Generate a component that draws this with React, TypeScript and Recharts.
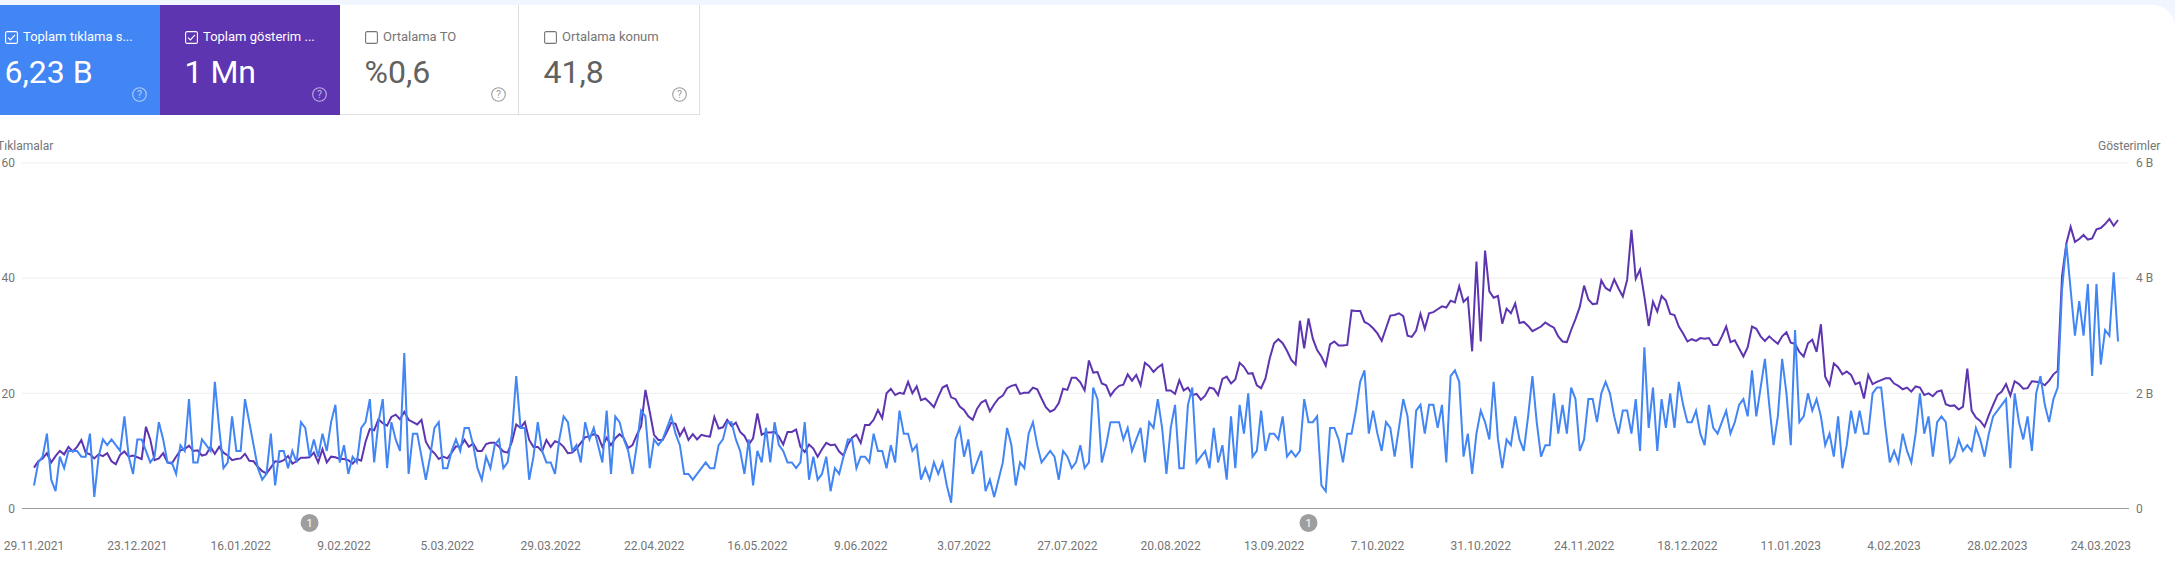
import React from "react";
import { LineChart, Line, XAxis, YAxis, CartesianGrid, ReferenceDot } from "recharts";

const startDate = "2021-11-29";
const clicks = [
4,8,9,13,5,3,9,7,10,10,10,9,9,13,2,9,12,11,12,11,10,16,9,6,12,12,10,8,9,15,12,8,8,6,11,10,19,8,8,12,11,10,22,14,7,8,16,10,10,19,15,11,7,5,6,13,4,10,10,7,10,8,15,14,9,12,9,13,10,15,18,8,11,6,9,8,14,15,19,8,15,19,7,15,12,10,27,6,13,13,9,5,9,14,15,
7,7,10,12,10,14,14,11,7,5,9,7,11,12,7,8,13,23,14,14,5,9,15,10,8,8,6,12,16,15,10,11,8,15,12,14,11,8,17,6,16,15,12,10,6,11,17,16,7,12,11,12,14,16,13,11,6,6,5,6,7,8,7,7,11,12,15,15,12,10,6,12,4,10,8,14,8,15,11,10,8,8,7,8,15,5,9,5,6,9,3,7,6,9,12,12,7,
9,9,8,13,10,10,7,11,8,17,13,13,10,11,5,7,5,8,6,8,4,1,12,14,9,12,6,8,10,3,5,2,5,8,14,11,4,8,7,13,15,11,8,9,10,9,5,10,9,7,8,11,7,8,21,19,8,11,15,15,15,12,14,10,12,14,8,15,14,19,14,6,14,18,7,7,18,21,8,9,10,7,14,8,11,5,16,7,18,13,20,9,10,17,10,13,13,12,16,9,10,9,10,
19,15,15,16,4,3,14,14,12,8,13,13,17,22,24,13,17,13,10,15,14,9,14,19,16,7,17,18,13,18,18,14,18,8,23,24,22,9,13,6,13,17,15,12,22,12,7,12,11,16,12,10,16,23,15,9,11,11,20,13,18,13,21,19,10,12,19,19,15,20,22,20,16,13,17,17,13,19,10,28,14,21,10,19,14,20,14,22,18,15,15,17,13,11,18,14,13,15,17,13,
15,18,19,16,24,16,21,26,18,11,16,26,20,11,31,15,16,20,17,19,16,11,13,9,16,7,11,17,13,17,13,13,20,21,21,14,8,10,8,13,10,8,13,20,13,16,9,15,16,15,8,9,12,10,11,10,14,12,9,13,16,17,18,19,7,20,15,12,16,10,20,23,18,15,19,21,38,46,38,30,36,30,39,23,39,25,31,30,41,29,
];
const impressions = [
710,820,870,960,800,910,1000,940,1070,990,1070,1190,970,940,870,940,910,960,820,770,930,990,900,920,890,860,1420,1200,840,870,960,800,780,900,1010,1030,1090,1000,1010,920,940,1070,950,1070,970,920,840,860,870,950,830,820,720,650,610,710,820,810,840,910,780,820,880,880,890,970,800,1030,800,900,890,860,860,840,780,860,830,1160,1380,1360,1550,1480,1440,1590,1630,1550,1680,1540,1500,1460,1540,1160,
1030,960,860,900,870,970,1080,1070,1190,1070,1130,1000,1000,1120,1140,1140,1070,990,970,1160,1460,1400,1500,1190,1070,1070,990,1190,1070,1170,1140,1070,960,970,1040,1140,1240,1250,1290,1260,1070,1230,1100,1220,1290,1220,1050,1100,1280,1430,2060,1680,1280,1190,1190,1330,1490,1470,1260,1390,1190,1290,1200,1280,1260,1250,1590,1390,1410,1540,1430,1490,1330,1260,1110,1220,1650,1280,1320,1320,1330,1250,1110,1330,1330,1370,1070,980,1110,1040,900,1030,1140,1100,1110,990,920,1110,1230,1280,
1140,1450,1450,1540,1710,1570,2000,2080,1970,2010,1990,2200,2000,2120,1880,1910,1840,1760,1940,2100,2140,1930,1900,1770,1710,1600,1540,1730,1840,1880,1690,1810,1910,1960,2090,2130,2150,1990,2010,2010,2100,2070,1910,1760,1680,1720,1830,2080,2060,2270,2270,2190,2050,2570,2360,2370,2170,2140,1960,2060,2130,2150,2330,2220,2320,2140,2530,2470,2370,2450,2500,2050,2050,1990,2230,2050,2100,1970,1990,1890,1960,2100,2080,1970,2250,2290,2170,2240,2530,2460,2340,2350,2140,2090,2260,2610,2870,2940,2870,2740,2580,2500,3260,
2780,3300,2950,2750,2640,2480,2850,2900,2830,2830,2840,3440,3430,3430,3240,3200,3130,3040,2910,3130,3350,3360,3390,3340,3000,2980,3090,3380,3120,3390,3410,3460,3510,3490,3610,3580,3860,3590,3660,2730,4290,2900,4480,3770,3660,3690,3210,3470,3390,3560,3220,3240,3170,3080,3120,3160,3230,3180,3140,2990,2900,2890,3100,3290,3500,3870,3630,3550,3560,3960,3830,3780,3980,3820,3680,3970,4840,3990,4150,3680,3170,3590,3420,3690,3610,3380,3360,3160,3040,2900,2940,2910,2960,2950,2960,2840,2840,
2990,3160,2890,2920,2780,2640,2800,3160,3120,2990,2910,2990,2920,2860,2990,3060,2880,2860,2720,2640,2870,2930,2720,3200,2290,2140,2520,2450,2330,2380,2320,2160,2190,1910,2320,2160,2200,2230,2260,2260,2170,2130,2070,2100,2030,2120,2100,1970,2000,1950,2030,2050,1810,1780,1790,1720,1770,2430,1700,1580,1520,1420,1620,1800,1970,2030,2160,1960,2210,2160,2080,2090,2210,2200,2190,2140,2220,2330,2390,4030,4600,4890,4630,4680,4750,4670,4690,4850,4870,4940,5030,4910,5010,
];
const clickTicks = [0, 20, 40, 60];
const impressionTicks = [0, 2000, 4000, 6000];
const annotationDates = ["1.02.2022", "21.09.2022"];

const cards = [
  { label: "Toplam tıklama s...", value: "6,23 B", left: 0, width: 160, bg: "#4285f4", on: true },
  { label: "Toplam gösterim ...", value: "1 Mn", left: 160, width: 180, bg: "#5e35b1", on: true },
  { label: "Ortalama TO", value: "%0,6", left: 340, width: 179, bg: "#fff", on: false },
  { label: "Ortalama konum", value: "41,8", left: 519, width: 181, bg: "#fff", on: false },
];

const dayLabel = (i: number) => {
  const d = new Date(Date.parse(startDate + "T00:00:00Z") + i * 86400000);
  return `${d.getUTCDate()}.${String(d.getUTCMonth() + 1).padStart(2, "0")}.${d.getUTCFullYear()}`;
};
const table = clicks.map((c, i) => ({ date: dayLabel(i), clicks: c, impressions: impressions[i] }));

const font = "Roboto, sans-serif";
const GREY = "#757575";

function Card({ c }: { c: (typeof cards)[number] }) {
  const off = c.left === 0 ? 4.5 : 24.5;
  return (
    <div style={{ position: "absolute", left: c.left, top: 5, width: c.width, height: 110, background: c.bg, boxSizing: "border-box",
      borderRight: c.on ? "none" : "1px solid #e0e0e0", borderBottom: c.on ? "none" : "1px solid #e0e0e0", fontFamily: font }}>
      <svg width="13" height="13" style={{ position: "absolute", left: off, top: 26 }}>
        <rect x="0.6" y="0.6" width="11.8" height="11.8" rx="1.5" fill="none" stroke={c.on ? "#fff" : "#757575"} strokeWidth="1.1" />
        {c.on && <path d="M3 6.6 L5.4 9 L10 3.9" fill="none" stroke="#fff" strokeWidth="1.2" />}
      </svg>
      <div style={{ position: "absolute", left: off + 18.5, top: 24, fontSize: 13, lineHeight: "16px", color: c.on ? "#fff" : GREY, whiteSpace: "nowrap" }}>{c.label}</div>
      <div style={{ position: "absolute", left: off, top: 48, fontSize: 32, fontWeight: 400, lineHeight: "38px", color: c.on ? "#fff" : "#616161", whiteSpace: "nowrap" }}>{c.value}</div>
      <svg width="15" height="15" style={{ position: "absolute", left: c.width - 28, top: 82, opacity: c.on ? 0.6 : 1 }}>
        <circle cx="7.5" cy="7.5" r="6.8" fill="none" stroke={c.on ? "#fff" : "#9e9e9e"} strokeWidth="1.1" />
        <text x="7.5" y="11.2" textAnchor="middle" fontSize="10.5" fontFamily={font} fill={c.on ? "#fff" : "#9e9e9e"}>?</text>
      </svg>
    </div>
  );
}

export default function App() {
  return (
    <div style={{ position: "absolute", left: 0, top: 0, width: 2175, height: 566, background: "#f1f5fd", overflow: "hidden" }}>
      <div style={{ position: "absolute", left: 0, top: 5, width: 2175, height: 561, background: "#fff", borderTopRightRadius: 22 }} />
      {cards.map((c) => <Card key={c.label} c={c} />)}
      <div style={{ position: "absolute", left: -3, top: 139, fontFamily: font, fontSize: 12, lineHeight: "15px", color: GREY }}>Tıklamalar</div>
      <div style={{ position: "absolute", left: 2098, top: 139, fontFamily: font, fontSize: 12, lineHeight: "15px", color: GREY }}>Gösterimler</div>
      <div style={{ position: "absolute", left: 0, top: 0 }}>
        <LineChart width={2175} height={566} data={table} margin={{ top: 163, right: 0, bottom: 0, left: 0 }}>
          <CartesianGrid horizontal vertical={false} stroke="#eeeeee" strokeWidth={1} yAxisId="left" syncWithTicks />
          <XAxis dataKey="date" interval={23} height={57.5} tickLine={false} axisLine={{ stroke: "#9e9e9e", strokeWidth: 1 }}
            tickSize={0} tickMargin={33} padding={{ left: 12, right: 11 }} tick={{ fill: GREY, fontSize: 12, fontFamily: font }} />
          <YAxis yAxisId="left" width={22} domain={[0, 60]} ticks={clickTicks} axisLine={false} tickLine={false} tickSize={0} tickMargin={7}
            tick={{ fill: GREY, fontSize: 12, fontFamily: font }} />
          <YAxis yAxisId="right" orientation="right" width={46} domain={[0, 6000]} ticks={impressionTicks} axisLine={false} tickLine={false} tickSize={0} tickMargin={7}
            tickFormatter={(v: number) => (v === 0 ? "0" : `${v / 1000} B`)} tick={{ fill: GREY, fontSize: 12, fontFamily: font }} />
          <Line yAxisId="right" dataKey="impressions" type="linear" stroke="#5e35b1" strokeWidth={2} dot={false} isAnimationActive={false} />
          <Line yAxisId="left" dataKey="clicks" type="linear" stroke="#4285f4" strokeWidth={2} dot={false} isAnimationActive={false} />
          {annotationDates.map((d) => (
            <ReferenceDot key={d} yAxisId="left" x={d} y={-2.5} r={9} ifOverflow="visible" fill="#9e9e9e" stroke="none"
              label={{ value: "1", position: "center", fill: "#fff", fontSize: 11, fontFamily: font }} />
          ))}
        </LineChart>
      </div>
    </div>
  );
}
